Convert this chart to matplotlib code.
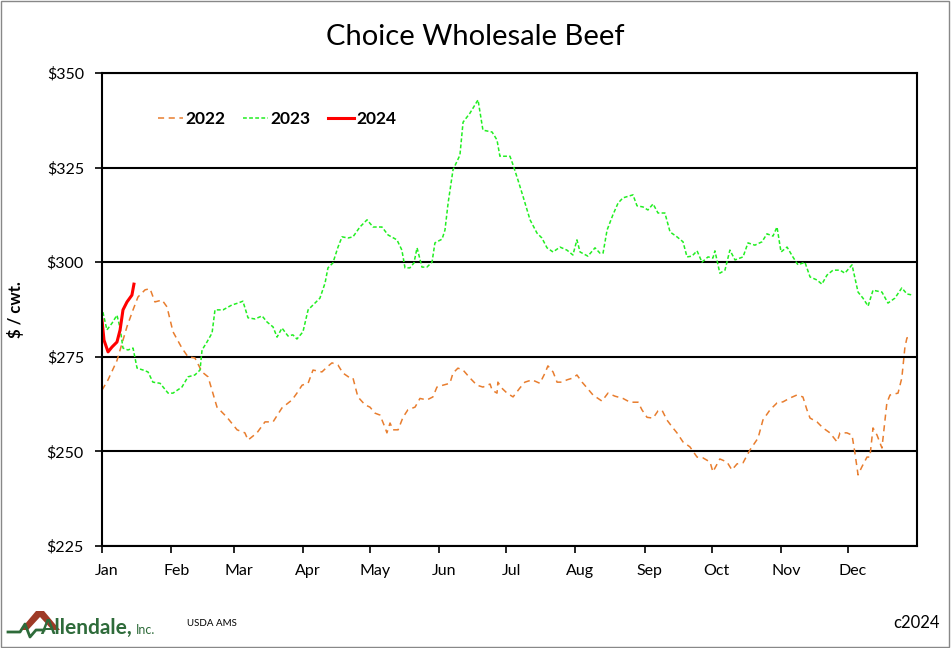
import matplotlib
matplotlib.use('Agg')
import matplotlib.pyplot as plt
import matplotlib.transforms as mtransforms
from matplotlib.patches import Polygon, Rectangle
import numpy as np

plt.rcParams['font.family'] = ['Lato', 'DejaVu Sans']

# day of year / price ($ per cwt)
days_2022 = [0, 2.7, 6.7, 9.0, 11.2, 13.9, 16.1, 19.3, 21.5, 23.7, 26.9, 29.1, 31.8, 35.8, 38.5,
             41.6, 44.8, 47.5, 51.5, 56.0, 60.5, 64.0, 65.4, 69.4, 73.0, 76.6, 80.6, 85.1, 87.3,
             89.6, 92.3, 94.5, 98.5, 100.8, 103.0, 105.7, 107.9, 111.1, 112.4, 114.6, 117.8,
             120.0, 122.3, 124.5, 126.7, 127.6, 129.0, 130.3, 132.6, 134.8, 137.0, 140.2, 142.4,
             145.5, 148.2, 150.0, 152.7, 155.8, 157.2, 159.4, 161.7, 164.8, 167.9, 170.6, 173.8,
             174.7, 176.9, 177.3, 179.1, 181.4, 184.1, 187.2, 189.4, 192.6, 196.1, 198.4, 199.7,
             202.0, 203.8, 206.0, 208.2, 210.9, 212.7, 215.0, 217.2, 219.9, 223.9, 226.6, 229.7,
             233.3, 236.5, 240.1, 241.8, 244.1, 246.8, 249.0, 250.8, 253.0, 255.3, 257.5, 260.2,
             263.3, 266.5, 269.1, 272.3, 273.6, 276.7, 279.9, 282.1, 284.4, 287.1, 290.2, 293.8,
             296.0, 299.2, 302.3, 305.0, 308.1, 311.2, 313.9, 315.7, 317.1, 320.2, 322.9, 326.0,
             329.2, 330.5, 333.6, 335.9, 337.2, 338.6, 340.3, 342.6, 343.9, 345.3, 347.1, 349.3,
             351.5, 352.9, 356.5, 358.2, 359.6, 360.5, 361.8]
beef_2022 = [266.2, 268.9, 274.0, 278.6, 283.0, 287.4, 290.8, 292.7, 293.0, 289.5, 290.0, 288.2,
             281.6, 277.3, 275.0, 274.7, 271.0, 269.7, 261.7, 259.0, 255.7, 254.9, 253.0, 254.9,
             257.8, 257.8, 261.5, 263.6, 265.4, 267.5, 268.0, 271.5, 271.0, 272.3, 273.4, 272.8,
             270.7, 269.4, 269.4, 264.4, 262.3, 261.7, 260.1, 259.6, 256.4, 254.9, 257.5, 255.7,
             255.7, 259.0, 261.0, 261.7, 264.0, 263.6, 264.4, 267.0, 267.5, 268.0, 270.7, 272.0,
             271.5, 269.4, 267.5, 267.0, 267.8, 266.2, 265.4, 268.3, 266.7, 265.4, 264.4, 266.8,
             268.3, 268.9, 268.0, 270.7, 272.6, 271.0, 268.3, 268.3, 268.9, 269.4, 270.2, 268.3,
             266.8, 264.9, 263.3, 265.4, 264.6, 264.0, 263.0, 263.0, 261.0, 259.0, 258.8, 260.7,
             260.9, 258.3, 256.5, 254.9, 252.5, 251.2, 248.5, 248.3, 247.2, 244.6, 248.0, 247.2,
             245.1, 246.7, 247.0, 250.4, 253.5, 258.3, 261.0, 262.8, 263.1, 264.1, 264.9, 264.4,
             261.0, 258.8, 257.8, 256.2, 254.9, 252.5, 254.9, 254.9, 254.3, 249.6, 243.8, 245.9,
             248.5, 248.5, 256.2, 254.3, 250.9, 262.8, 264.9, 265.4, 269.4, 277.6, 280.0, 280.2]

days_2023 = [0.4, 2.2, 4.5, 6.7, 8.1, 9.4, 11.6, 13.9, 15.7, 18.4, 20.6, 22.8, 26.0, 29.6, 31.8,
             35.8, 38.5, 41.6, 43.9, 44.8, 47.0, 49.3, 50.6, 54.2, 58.2, 60.9, 63.1, 65.4, 68.5,
             71.7, 73.9, 76.6, 78.4, 80.6, 83.3, 85.5, 87.3, 90.0, 92.3, 95.4, 97.6, 99.9, 101.2,
             103.4, 105.7, 107.5, 110.2, 112.4, 115.5, 118.7, 121.4, 125.4, 128.1, 132.1, 134.3,
             135.7, 137.9, 139.7, 141.1, 143.3, 145.5, 147.8, 149.1, 152.3, 153.6, 155.0, 157.2,
             160.3, 161.7, 164.8, 168.4, 170.6, 174.7, 176.9, 178.2, 182.7, 184.1, 186.3, 188.5,
             191.7, 194.8, 197.0, 199.3, 202.0, 205.1, 208.2, 210.9, 212.7, 214.1, 217.6, 220.8,
             223.0, 224.4, 226.2, 228.8, 231.1, 233.3, 237.8, 239.6, 242.3, 244.5, 246.8, 249.0,
             252.1, 254.4, 257.5, 260.2, 262.0, 264.2, 266.5, 268.7, 271.4, 273.6, 274.5, 276.7,
             279.0, 281.2, 283.5, 287.1, 289.3, 292.4, 295.6, 297.8, 300.5, 302.3, 304.1, 306.8,
             309.4, 311.7, 314.8, 317.1, 320.2, 322.4, 324.7, 327.4, 330.5, 332.7, 335.9, 338.6,
             340.8, 343.1, 345.3, 349.3, 352.0, 355.1, 358.2, 360.5, 363.2]
beef_2023 = [286.8, 282.1, 283.9, 286.0, 282.6, 277.3, 276.8, 277.3, 272.0, 271.5, 271.0, 268.3,
             268.0, 265.4, 265.4, 267.0, 269.7, 270.2, 271.5, 276.8, 278.9, 281.3, 287.4, 287.4,
             288.7, 289.2, 289.7, 285.3, 285.0, 285.8, 284.2, 282.9, 280.2, 282.6, 280.5, 280.8,
             279.7, 281.6, 287.4, 289.2, 290.5, 294.5, 298.5, 299.8, 304.0, 306.7, 306.4, 306.7,
             309.3, 311.2, 309.3, 309.3, 307.2, 305.9, 303.2, 298.5, 298.5, 299.8, 303.8, 298.7,
             298.7, 300.0, 305.1, 306.1, 308.5, 315.6, 324.4, 328.3, 337.0, 339.4, 342.9, 334.9,
             334.4, 332.3, 328.0, 328.0, 325.7, 321.7, 317.5, 311.2, 307.7, 306.4, 303.8, 302.7,
             304.0, 303.2, 301.9, 305.9, 302.7, 301.6, 303.8, 302.4, 302.4, 308.5, 312.5, 315.6,
             317.0, 317.8, 314.9, 314.6, 313.8, 315.4, 313.0, 313.0, 308.0, 306.7, 305.4, 301.4,
             301.6, 303.0, 300.0, 301.4, 301.1, 303.0, 297.1, 297.9, 303.2, 300.6, 301.4, 305.1,
             304.5, 305.4, 307.5, 306.9, 309.3, 302.7, 304.0, 301.4, 299.3, 300.0, 296.1, 295.3,
             294.2, 296.6, 297.9, 297.9, 297.1, 299.3, 292.1, 290.5, 288.4, 292.6, 292.1, 289.2,
             290.5, 293.2, 291.6, 291.3]

days_2024 = [0, 0.9, 2.7, 4.5, 6.7, 8.1, 9.4, 11.2, 13.4, 14.3]
beef_2024 = [284.7, 279.4, 276.3, 277.6, 278.9, 282.1, 287.4, 289.5, 291.3, 294.2]

month_starts = [0, 31, 59, 90, 120, 151, 181, 212, 243, 273, 304, 334]
month_names = ['Jan', 'Feb', 'Mar', 'Apr', 'May', 'Jun', 'Jul', 'Aug', 'Sep', 'Oct', 'Nov', 'Dec']

fig = plt.figure(figsize=(9.51, 6.48), dpi=100)
ax = fig.add_axes([102/951, 1-546/648, 815/951, 473/648])

ax.plot(days_2022, beef_2022, color='#E87D2E', lw=1.1, dashes=(4, 3), label='2022')
ax.plot(days_2023, beef_2023, color='#22EE22', lw=1.1, dashes=(2.5, 1.5), label='2023')
ax.plot(days_2024, beef_2024, color='#FF0000', lw=2.2, label='2024')

ax.set_xlim(0, 365)
ax.set_ylim(225, 350)
ax.set_yticks(np.arange(225, 351, 25))
ax.set_yticklabels(['$%d' % v for v in np.arange(225, 351, 25)], fontsize=11.5)
ax.set_xticks(month_starts)
ax.set_xticklabels(month_names, fontsize=11.5)
ax.tick_params(direction='out', length=5, width=1.2, color='black')
ax.tick_params(axis='x', pad=8)
ax.tick_params(axis='y', pad=8)
shift = mtransforms.ScaledTranslation(5/100, 0, fig.dpi_scale_trans)
for lbl in ax.get_xticklabels():
    lbl.set_transform(lbl.get_transform() + shift)
ax.grid(axis='y', color='black', lw=1.5)
ax.set_axisbelow(True)
for s in ax.spines.values():
    s.set_linewidth(1.5)
    s.set_color('black')
ax.set_ylabel('$ / cwt.', fontsize=12, fontweight='bold', labelpad=16)

leg = ax.legend(loc='center left', bbox_to_anchor=(0.058, 0.903), ncol=3, frameon=False,
                handlelength=1.45, columnspacing=1.0, handletextpad=0.15, borderpad=0,
                prop={'weight': 'bold', 'size': 12.5})

fig.text(0.5, 1-37/648, 'Choice Wholesale Beef', ha='center', va='center', fontsize=21)
fig.text(187/951, 1-624/648, 'USDA AMS', fontsize=7, va='center')
fig.text(940/951, 1-623/648, 'c2024', fontsize=12, ha='right', va='center')

# logo
roof = Polygon([[20/951, 1-630/648], [36/951, 1-611/648], [44/951, 1-611/648], [60/951, 1-630/648],
                [52/951, 1-630/648], [40/951, 1-617/648], [28/951, 1-630/648]],
               closed=True, transform=fig.transFigure, facecolor='#9E3A26', edgecolor='none')
fig.patches.append(roof)
fig.lines.append(plt.Line2D([8/951, 20/951, 25/951, 30/951, 36/951, 44/951],
                            [1-632/648, 1-632/648, 1-624/648, 1-637/648, 1-630/648, 1-630/648],
                            transform=fig.transFigure, color='#2E6B3A', lw=2))
fig.text(40/951, 1-628/648, 'Allendale,', fontsize=15, fontweight='bold', color='#2E6B3A', va='center')
fig.text(136/951, 1-630/648, 'Inc.', fontsize=9, color='#2E6B3A', va='center')

fig.patches.append(Rectangle((0.001, 0.002), 0.997, 0.996, transform=fig.transFigure,
                             fill=False, edgecolor='#888888', lw=1))

fig.savefig('out.png', dpi=100)
